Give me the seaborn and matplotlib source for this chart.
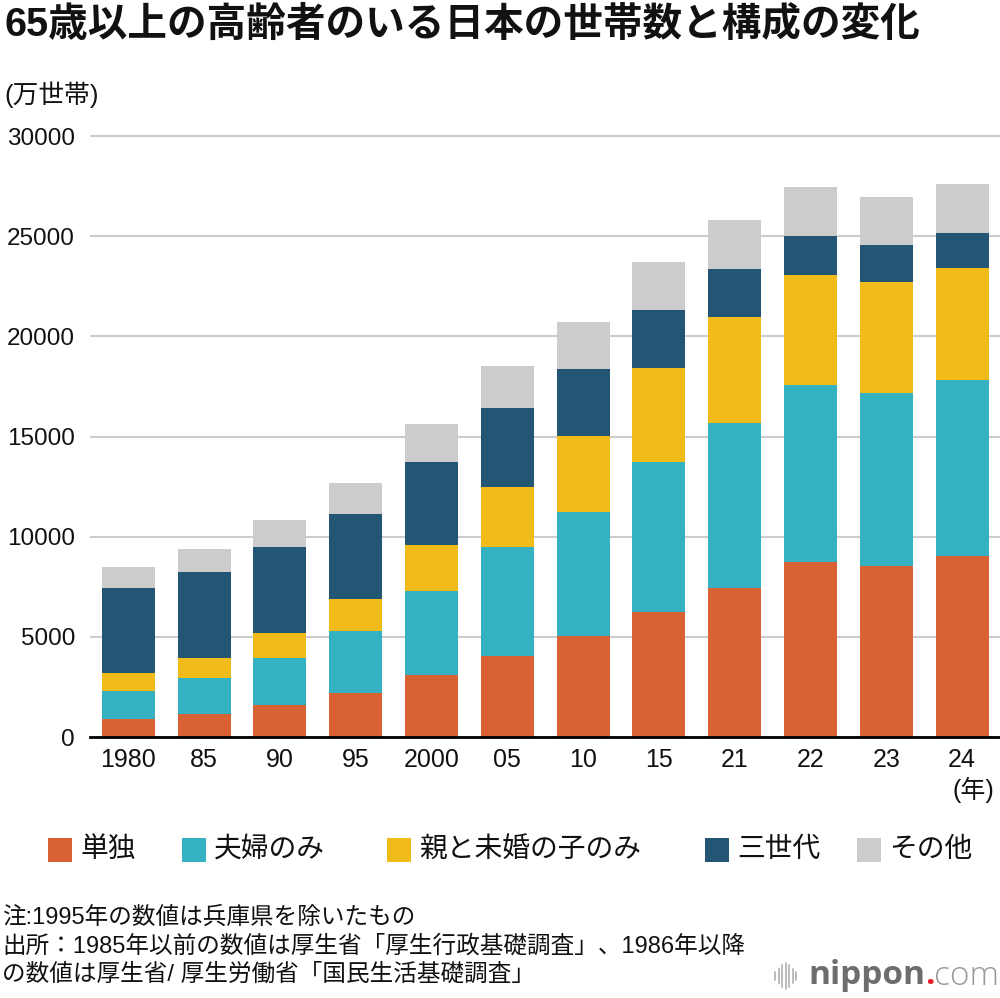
"""
65歳以上の高齢者のいる日本の世帯数と構成の変化 - 積み上げ棒グラフ
"""

import pandas as pd
import matplotlib
matplotlib.use("Agg")
import matplotlib.pyplot as plt
from matplotlib.patches import Rectangle
from matplotlib.lines import Line2D
import seaborn as sns

# データ（単位：万世帯）
years = ["1980", "85", "90", "95", "2000", "05", "10", "15", "21", "22", "23", "24"]
tandoku = [910, 1131, 1613, 2199, 3079, 4069, 5018, 6243, 7427, 8730, 8553, 9031]
fufu = [1379, 1795, 2314, 3075, 4234, 5420, 6190, 7469, 8251, 8821, 8641, 8791]
oya_ko = [891, 1012, 1275, 1636, 2268, 3010, 3836, 4704, 5284, 5514, 5495, 5614]
sansedai = [4254, 4313, 4270, 4232, 4141, 3947, 3348, 2906, 2401, 1947, 1861, 1721]
sonota = [1062, 1150, 1345, 1553, 1924, 2088, 2313, 2402, 2445, 2460, 2428, 2442]

series_names = ["単独", "夫婦のみ", "親と未婚の子のみ", "三世代", "その他"]
colors = ["#D96235", "#35B2C1", "#F1BB1A", "#235574", "#CCCCCC"]
y_ticks = [0, 5000, 10000, 15000, 20000, 25000, 30000]

TITLE = "65歳以上の高齢者のいる日本の世帯数と構成の変化"
NOTES = [
    "注:1995年の数値は兵庫県を除いたもの",
    "出所：1985年以前の数値は厚生省「厚生行政基礎調査」、1986年以降",
    "の数値は厚生省/ 厚生労働省「国民生活基礎調査」",
]


def build_frame():
    df = pd.DataFrame({
        "年": years,
        series_names[0]: tandoku,
        series_names[1]: fufu,
        series_names[2]: oya_ko,
        series_names[3]: sansedai,
        series_names[4]: sonota,
    })
    # 積み上げ用の累積値
    cum = df[series_names].cumsum(axis=1)
    cum.insert(0, "年", df["年"])
    return cum


def main():
    sns.set_theme(style="white")
    # 数字は Helvetica 風、日本語は Noto CJK
    plt.rcParams["font.family"] = ["Liberation Sans", "Noto Sans CJK JP", "DejaVu Sans"]

    cum = build_frame()

    fig = plt.figure(figsize=(10, 9.98), dpi=100)
    ax = fig.add_axes([0.0904, 0.2615, 0.9096, 0.6042])

    # 上の層から描いて重ねる
    for name, color in reversed(list(zip(series_names, colors))):
        sns.barplot(data=cum, x="年", y=name, order=years, color=color,
                    width=0.70, linewidth=0, saturation=1, ax=ax, zorder=3)

    ax.set_ylim(0, 30100)
    ax.set_xlim(-0.5, len(years) - 0.5)
    ax.set_xlabel("")
    ax.set_ylabel("")
    ax.set_yticks(y_ticks)
    ax.set_yticklabels([str(v) for v in y_ticks])
    ax.tick_params(axis="y", length=0, pad=11, labelsize=17.5, colors="#111111")
    ax.tick_params(axis="x", length=0, pad=8, labelsize=18, colors="#111111")

    ax.yaxis.grid(True, color="#cccccc", linewidth=1.5)
    ax.xaxis.grid(False)
    ax.set_axisbelow(True)
    for side in ["top", "right", "left"]:
        ax.spines[side].set_visible(False)
    ax.spines["bottom"].set_color("black")
    ax.spines["bottom"].set_linewidth(2)
    ax.spines["bottom"].set_zorder(5)

    # タイトル・単位
    fig.text(0.004, 1 - 25 / 998, TITLE, fontsize=28.5, fontweight="bold",
             va="center", ha="left", color="#111111")
    fig.text(0.004, 1 - 95 / 998, "(万世帯)", fontsize=18.5,
             va="center", ha="left", color="#111111")
    fig.text(0.973, 1 - 790 / 998, "(年)", fontsize=18,
             va="center", ha="center", color="#111111")

    # 凡例
    leg_x = [48, 182, 387, 705, 857]
    for x0, name, color in zip(leg_x, series_names, colors):
        fig.add_artist(Rectangle((x0 / 1000, 1 - 862 / 998), 24 / 1000, 24 / 998,
                                 transform=fig.transFigure, color=color, lw=0))
        fig.text((x0 + 32) / 1000, 1 - 850 / 998, name, fontsize=20,
                 va="center", ha="left", color="#111111")

    # 注・出所
    for i, line in enumerate(NOTES):
        fig.text(0.002, 1 - (918 + 28 * i) / 998, line, fontsize=17,
                 va="center", ha="left", color="#111111")

    # ロゴ
    bar_h = [8, 14, 22, 26, 22, 14, 8]
    for j, h in enumerate(bar_h):
        xx = (775 + j * 3.5) / 1000
        yc = 1 - 976 / 998
        fig.add_artist(Line2D([xx, xx], [yc - h / 2 / 998, yc + h / 2 / 998],
                              transform=fig.transFigure, color="#bbbbbb", lw=1.4))
    t1 = fig.text(0.808, 1 - 976 / 998, "nippon", fontsize=24, fontweight="bold",
                  family="Open Sans", color="#6d6d6d", va="center", ha="left")
    fig.canvas.draw()
    x_end = t1.get_window_extent().x1 / fig.bbox.width
    t2 = fig.text(x_end, 1 - 976 / 998, ".", fontsize=24, fontweight="bold",
                  family="Open Sans", color="#e8202a", va="center", ha="left")
    fig.canvas.draw()
    x_end2 = t2.get_window_extent().x1 / fig.bbox.width
    fig.text(x_end2, 1 - 976 / 998, "com", fontsize=24, fontweight="light",
             family="Open Sans", color="#9a9a9a", va="center", ha="left")

    fig.savefig("out.png", dpi=100)
    plt.close(fig)


if __name__ == "__main__":
    main()
